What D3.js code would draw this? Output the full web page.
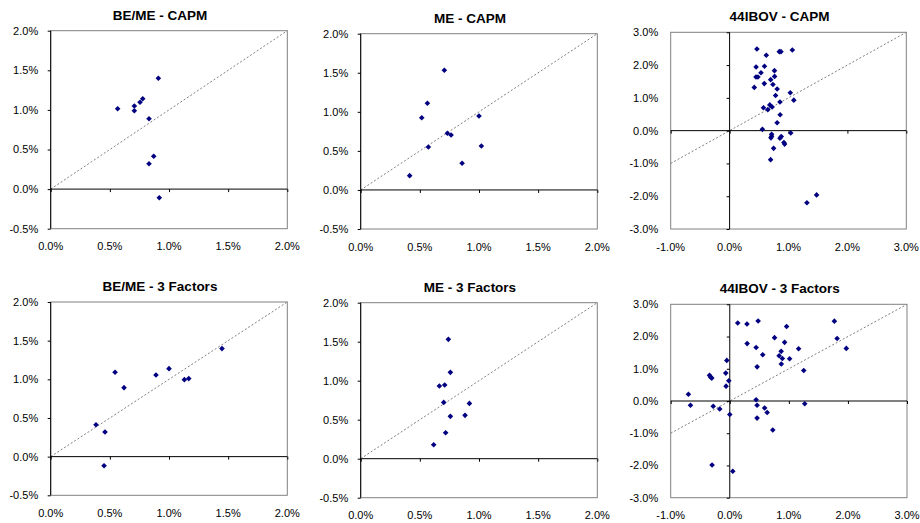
<!DOCTYPE html>
<html><head><meta charset="utf-8">
<script src="https://cdn.jsdelivr.net/npm/d3@7"></script>
<style>
html,body{margin:0;padding:0;background:#fff;}
svg{display:block;font-family:"Liberation Sans",Arial,sans-serif;}
</style></head>
<body>
<svg id="c" width="920" height="523"></svg>
<script>
// ---- data (values in %) ----
const titles = ["BE/ME - CAPM","ME - CAPM","44IBOV - CAPM","BE/ME - 3 Factors","ME - 3 Factors","44IBOV - 3 Factors"];
const ticksSmall = [-0.5,0.0,0.5,1.0,1.5,2.0];
const ticksSmallX = [0.0,0.5,1.0,1.5,2.0];
const ticksIbovY = [-3,-2,-1,0,1,2,3];
const ticksIbovX = [-1,0,1,2,3];

const bemeCapmX = [0.566,0.707,0.707,0.755,0.778,0.910,0.831,0.871,0.831,0.918];
const bemeCapmY = [1.015,1.049,0.990,1.096,1.141,1.399,0.889,0.414,0.321,-0.109];
const meCapmX = [0.414,0.516,0.564,0.572,0.707,0.733,0.764,0.857,1.000,1.020];
const meCapmY = [0.183,0.925,1.109,0.550,1.532,0.725,0.704,0.341,0.947,0.563];
const ibovCapmX = [0.464,0.623,0.844,0.872,1.065,0.450,0.592,0.762,0.533,0.448,0.481,0.764,0.697,0.589,0.736,0.419,0.807,1.030,0.781,0.855,1.090,0.575,0.683,0.722,0.649,0.858,0.807,0.557,0.713,0.713,0.702,0.877,0.855,0.922,0.934,1.038,0.747,0.696,1.313,1.477];
const ibovCapmY = [2.49,2.30,2.41,2.41,2.46,1.94,1.965,1.83,1.765,1.635,1.635,1.655,1.555,1.435,1.41,1.32,1.27,1.155,1.07,0.875,0.93,0.70,0.785,0.72,0.64,0.485,0.24,0.04,-0.11,-0.17,-0.22,-0.18,-0.23,-0.36,-0.41,-0.07,-0.54,-0.885,-2.20,-1.96];

const beme3fX = [0.383,0.459,0.451,0.544,0.620,0.890,1.000,1.130,1.167,1.448];
const beme3fY = [0.413,0.319,-0.117,1.091,0.892,1.056,1.138,0.996,1.009,1.397];
const me3fX = [0.617,0.665,0.710,0.702,0.741,0.758,0.758,0.718,0.882,0.919];
const me3fY = [0.179,0.932,0.944,0.722,1.530,1.107,0.543,0.333,0.556,0.709];
const ibov3fX = [-0.700,-0.665,-0.343,-0.327,-0.305,-0.280,-0.170,-0.300,-0.050,-0.068,-0.017,-0.063,0.000,0.051,0.135,0.291,0.480,0.294,0.446,0.558,0.463,0.446,0.462,0.462,0.590,0.633,0.728,0.758,0.962,0.928,0.870,0.835,0.890,1.013,0.872,1.165,1.252,1.269,1.771,1.817,1.972];
const ibov3fY = [0.21,-0.13,0.80,0.745,0.71,-0.165,-0.25,-1.986,1.26,0.865,0.63,0.46,-0.42,-2.18,2.42,2.39,2.48,1.78,1.66,1.435,1.06,0.04,-0.13,-0.53,-0.217,-0.355,-0.90,1.966,2.31,1.82,1.54,1.405,1.32,1.31,1.15,1.62,0.945,-0.083,2.478,1.94,1.632];

// ---- layout ----
const panels = [
  {title:titles[0], xs:bemeCapmX, ys:bemeCapmY, xd:[0,2], yd:[-0.5,2], xt:ticksSmallX, yt:ticksSmall, box:[50.7,287.3,30.7,228.7]},
  {title:titles[1], xs:meCapmX, ys:meCapmY, xd:[0,2], yd:[-0.5,2], xt:ticksSmallX, yt:ticksSmall, box:[360.7,597.3,33.7,229]},
  {title:titles[2], xs:ibovCapmX, ys:ibovCapmY, xd:[-1,3], yd:[-3,3], xt:ticksIbovX, yt:ticksIbovY, box:[670.7,906.3,32.3,229]},
  {title:titles[3], xs:beme3fX, ys:beme3fY, xd:[0,2], yd:[-0.5,2], xt:ticksSmallX, yt:ticksSmall, box:[50.7,287.3,302,495.3]},
  {title:titles[4], xs:me3fX, ys:me3fY, xd:[0,2], yd:[-0.5,2], xt:ticksSmallX, yt:ticksSmall, box:[360.7,597.3,302.7,497.7]},
  {title:titles[5], xs:ibov3fX, ys:ibov3fY, xd:[-1,3], yd:[-3,3], xt:ticksIbovX, yt:ticksIbovY, box:[670.7,907,304.3,497.7]}
];

const svg = d3.select("#c");
const fmt = v => d3.format(".1f")(v).replace("\u2212","-") + "%";
const diamond = "M0,-2.8L2.8,0L0,2.8L-2.8,0Z";

panels.forEach(p => {
  const [l,r,t,b] = p.box;
  const x = d3.scaleLinear().domain(p.xd).range([l,r]);
  const y = d3.scaleLinear().domain(p.yd).range([b,t]);
  const g = svg.append("g");

  // title
  g.append("text").attr("x",(l+r)/2-9).attr("y",t-11)
    .attr("text-anchor","middle").attr("font-weight","bold").attr("font-size","13.5px")
    .text(p.title);

  // plot border
  g.append("rect").attr("x",l).attr("y",t).attr("width",r-l).attr("height",b-t)
    .attr("fill","none").attr("stroke","#808080").attr("stroke-width",1);

  // diagonal 45-degree line
  g.append("line").attr("x1",x(p.xd[0])).attr("y1",y(p.xd[0]))
    .attr("x2",x(p.xd[1])).attr("y2",y(p.xd[1]))
    .attr("stroke","#808080").attr("stroke-width",1).attr("stroke-dasharray","2,2");

  // x axis at y=0 (ticks down), labels at bottom
  const xAxis = d3.axisBottom(x).tickValues(p.xt).tickSize(3).tickFormat("");
  const gx = g.append("g").attr("transform",`translate(0,${y(0)})`).call(xAxis);
  gx.select(".domain").attr("stroke","#000").attr("d",`M${l},0H${r}`);
  gx.selectAll(".tick line").attr("stroke","#000");
  g.selectAll(null).data(p.xt).enter().append("text")
    .attr("x",d=>x(d)).attr("y",b+21.5).attr("text-anchor","middle")
    .attr("font-size","11px").attr("fill","#000").text(fmt);

  // y axis at x=0 (ticks left), labels at left edge
  const yAxis = d3.axisLeft(y).tickValues(p.yt).tickSize(3).tickFormat("");
  const gy = g.append("g").attr("transform",`translate(${x(0)},0)`).call(yAxis);
  gy.select(".domain").attr("stroke","#000").attr("d",`M0,${t}V${b}`);
  gy.selectAll(".tick line").attr("stroke","#000");
  g.selectAll(null).data(p.yt).enter().append("text")
    .attr("x",l-12.5).attr("y",d=>y(d)).attr("dy","0.36em").attr("text-anchor","end")
    .attr("font-size","11px").attr("fill","#000").text(fmt);

  // points
  g.selectAll(null).data(p.xs.map((v,i)=>[v,p.ys[i]])).enter().append("path")
    .attr("d",diamond).attr("fill","#000080")
    .attr("transform",d=>`translate(${x(d[0])},${y(d[1])})`);
});
</script>
</body></html>
